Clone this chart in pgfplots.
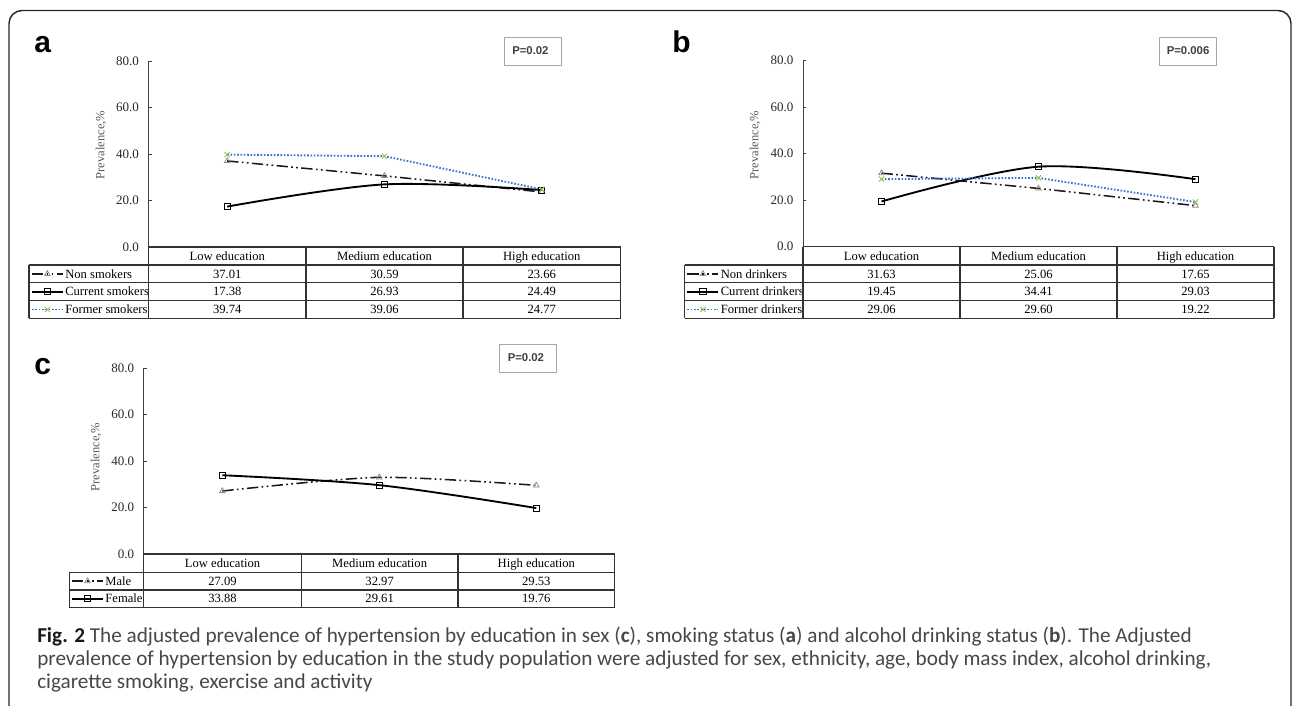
\documentclass[border=0pt]{standalone}
\usepackage{pgfplots}
\pgfplotsset{compat=1.18}
\usepackage{fontspec}
\setmainfont{Liberation Serif}
\newfontfamily\arialfont{Liberation Sans}
\newfontfamily\capfont{Carlito}
\definecolor{fblue}{RGB}{55,115,210}
\definecolor{fgreen}{RGB}{150,200,90}
\newcommand\tf{\fontsize{9.45pt}{11pt}\selectfont}
\pgfplotsset{
 panel/.style={scale only axis, height=139.5pt, xmin=-0.5,xmax=2.5,ymin=0,ymax=80,
  axis x line=none, axis y line*=left, ytick={0,20,40,60,80}, xtick=\empty,
  tick align=inside, major tick length=2.5pt,
  axis line style={black!75, line width=0.7pt}, ytick style={black!75, line width=0.7pt},
  yticklabel style={font=\fontsize{9.75pt}{11pt}\selectfont, text=black!85, inner sep=0pt, xshift=-7.1pt,
    /pgf/number format/fixed, /pgf/number format/fixed zerofill, /pgf/number format/precision=1},
  /pgf/number format/assume math mode=true,
  clip=false,
  legend cell align=left,
  legend style={anchor=north west, draw=none, fill=none, inner sep=0pt, outer sep=0pt, row sep=0pt, column sep=1.1pt, font=\tf},
  legend image code/.code={\draw[mark repeat=2,mark phase=2] plot coordinates {(0pt,0pt) (11.6pt,0pt) (23.2pt,0pt)};},
 },
 nonst/.style={black!90, line width=1.15pt, dash pattern=on 8.5pt off 2.5pt on 1.3pt off 2.5pt on 1.3pt off 2.5pt, mark=triangle, mark size=2.4pt, mark options={solid, draw=black!45, fill=white, line width=0.6pt}},
 curst/.style={black, line width=1.4pt, smooth, tension=0.55, mark=square, mark size=2.3pt, mark options={solid, draw=black, fill=white, line width=0.7pt}},
 forst/.style={fblue, line width=1.4pt, dash pattern=on 1.2pt off 1.3pt, mark=x, mark size=2.8pt, mark options={solid, draw=fgreen, line width=0.7pt}},
}
\begin{document}
\begin{tikzpicture}
% ---------- panel a ----------
\begin{axis}[panel, at={(148.5*0.75pt, 528pt-247*0.75pt)}, anchor=south west, width=354pt,
  legend style={at={(-0.2489,-0.0968)}, nodes={inner sep=0pt, minimum height=13.35pt, text height=6.3pt, text depth=0pt}}]
\addplot[nonst] coordinates {(0,37.01) (1,30.59) (2,23.66)};
\addlegendentry{Non smokers}
\addplot[curst] coordinates {(0,17.38) (1,26.93) (2,24.49)};
\addlegendentry{Current smokers}
\addplot[forst] coordinates {(0,39.74) (1,39.06) (2,24.77)};
\addlegendentry{Former smokers}
\end{axis}
% ---------- panel b ----------
\begin{axis}[panel, at={(803*0.75pt, 528pt-246.7*0.75pt)}, anchor=south west, width=353.25pt,
  legend style={at={(-0.2473,-0.0982)}, nodes={inner sep=0pt, minimum height=13.35pt, text height=6.3pt, text depth=0pt}}]
\addplot[nonst] coordinates {(0,31.63) (1,25.06) (2,17.65)};
\addlegendentry{Non drinkers}
\addplot[curst] coordinates {(0,19.45) (1,34.41) (2,29.03)};
\addlegendentry{Current drinkers}
\addplot[forst] coordinates {(0,29.06) (1,29.60) (2,19.22)};
\addlegendentry{Former drinkers}
\end{axis}
% ---------- panel c ----------
\begin{axis}[panel, at={(143.8*0.75pt, 528pt-554*0.75pt)}, anchor=south west, width=353.2pt,
  legend style={at={(-0.1542,-0.0982)}, nodes={inner sep=0pt, minimum height=13.2pt, text height=6.3pt, text depth=0pt}}]
\addplot[nonst, smooth, tension=0.45] coordinates {(0,27.09) (1,32.97) (2,29.53)};
\addlegendentry{Male}
\addplot[curst] coordinates {(0,33.88) (1,29.61) (2,19.76)};
\addlegendentry{Female}
\end{axis}
% ---------- decorations in pixel coordinates ----------
\begin{scope}[x=0.75pt, y=-0.75pt, shift={(0pt,528pt)}]
\path (0,0) rectangle (1292,704);
\draw[black!85, line width=1.1pt, rounded corners=9.75pt] (9,706) -- (9,10.5) -- (1291,10.5) -- (1291,706);
\tikzset{tl/.style={black!80, line width=0.8pt}, tn/.style={font=\tf, inner sep=0pt, anchor=base, text=black},
  lab/.style={anchor=base west, inner sep=0pt, font=\arialfont\bfseries\fontsize{22.5pt}{24pt}\selectfont},
  yl/.style={rotate=90, inner sep=0pt, font=\fontsize{9.4pt}{11pt}\selectfont, text=black!65},
  pbox/.style={draw=black!35, line width=0.75pt}, ptx/.style={anchor=west, inner sep=0pt, font=\arialfont\bfseries\fontsize{8.5pt}{10pt}\selectfont, text=black!75}}
% panel a table
\draw[tl] (148.5,247) -- (620.5,247);
\foreach \yy in {265,282.8,300.6,318.5} \draw[tl] (29,\yy) -- (620.5,\yy);
\draw[tl] (29,265) -- (29,318.5);
\foreach \xx in {148.5,306,463,620.5} \draw[tl] (\xx,247) -- (\xx,318.5);
\node[tn] at (227.25,260.2) {Low education};
\node[tn] at (384.5,260.2) {Medium education};
\node[tn] at (541.75,260.2) {High education};
\node[tn] at (227.25,278.1) {37.01}; \node[tn] at (384.5,278.1) {30.59}; \node[tn] at (541.75,278.1) {23.66};
\node[tn] at (227.25,295.9) {17.38}; \node[tn] at (384.5,295.9) {26.93}; \node[tn] at (541.75,295.9) {24.49};
\node[tn] at (227.25,313.7) {39.74}; \node[tn] at (384.5,313.7) {39.06}; \node[tn] at (541.75,313.7) {24.77};
\node[lab] at (34,53) {a};
\node[yl] at (101,145) {Prevalence,\%};
\draw[pbox] (504.7,37.3) rectangle (561.7,65.3);
\node[ptx] at (512,50.5) {P=0.02};
% panel b table
\draw[tl] (803,246.7) -- (1274,246.7);
\foreach \yy in {265,282.8,300.6,318.5} \draw[tl] (684.5,\yy) -- (1274,\yy);
\draw[tl] (684.5,265) -- (684.5,318.5);
\foreach \xx in {803,960,1117,1274} \draw[tl] (\xx,246.7) -- (\xx,318.5);
\node[tn] at (881.5,260.2) {Low education};
\node[tn] at (1038.5,260.2) {Medium education};
\node[tn] at (1195.5,260.2) {High education};
\node[tn] at (881.5,278.1) {31.63}; \node[tn] at (1038.5,278.1) {25.06}; \node[tn] at (1195.5,278.1) {17.65};
\node[tn] at (881.5,295.9) {19.45}; \node[tn] at (1038.5,295.9) {34.41}; \node[tn] at (1195.5,295.9) {29.03};
\node[tn] at (881.5,313.7) {29.06}; \node[tn] at (1038.5,313.7) {29.60}; \node[tn] at (1195.5,313.7) {19.22};
\node[lab] at (672,53) {b};
\node[yl] at (755,145) {Prevalence,\%};
\draw[pbox] (1159,37.3) rectangle (1216,65.3);
\node[ptx] at (1166.5,50.5) {P=0.006};
% panel c table
\draw[tl] (143.8,554) -- (614.7,554);
\foreach \yy in {572.3,590,607.5} \draw[tl] (69.2,\yy) -- (614.7,\yy);
\draw[tl] (69.2,572.3) -- (69.2,607.5);
\foreach \xx in {143.8,301.3,458,614.7} \draw[tl] (\xx,554) -- (\xx,607.5);
\node[tn] at (222.55,567.4) {Low education};
\node[tn] at (379.65,567.4) {Medium education};
\node[tn] at (536.35,567.4) {High education};
\node[tn] at (222.55,585.3) {27.09}; \node[tn] at (379.65,585.3) {32.97}; \node[tn] at (536.35,585.3) {29.53};
\node[tn] at (222.55,602.9) {33.88}; \node[tn] at (379.65,602.9) {29.61}; \node[tn] at (536.35,602.9) {19.76};
\node[lab] at (34,375) {c};
\node[yl] at (96,457) {Prevalence,\%};
\draw[pbox] (499.5,344.7) rectangle (556.7,372.7);
\node[ptx] at (507.5,357.5) {P=0.02};
% caption
\tikzset{captxt/.style={anchor=base west, inner sep=0pt, font=\capfont\fontsize{15.9pt}{18pt}\selectfont, text=black!72}}
\node[captxt] at (37,643) {\textbf{\color{black!90}Fig. 2} The adjusted prevalence of hypertension by education in sex (\textbf{c}), smoking status (\textbf{a}) and alcohol drinking status (\textbf{b}). The Adjusted};
\node[captxt] at (37,665.7) {prevalence of hypertension by education in the study population were adjusted for sex, ethnicity, age, body mass index, alcohol drinking,};
\node[captxt] at (37,688.4) {cigarette smoking, exercise and activity};
\end{scope}
\end{tikzpicture}
\end{document}
